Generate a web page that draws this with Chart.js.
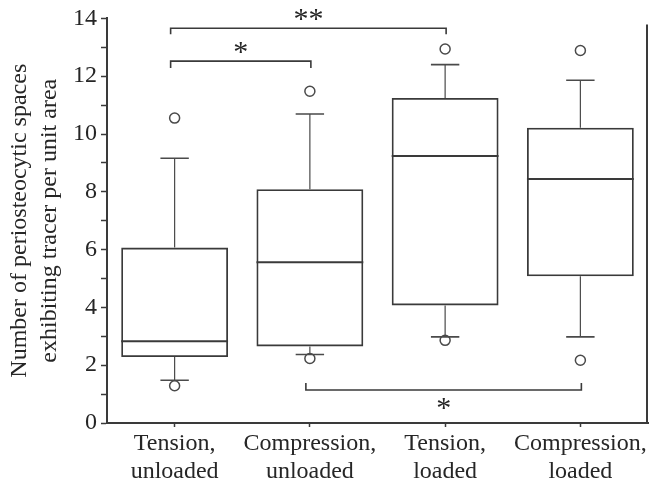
<!DOCTYPE html>
<html>
<head>
<meta charset="utf-8">
<script src="https://cdn.jsdelivr.net/npm/chart.js@4/dist/chart.umd.min.js"></script>
<style>
  body { margin: 0; background: #ffffff; }
  #wrap { width: 649px; height: 484px; }
</style>
</head>
<body>
<div id="wrap"><canvas id="chart" width="649" height="484"></canvas></div>
<script>
  let categories = [['Tension,', 'unloaded'], ['Compression,', 'unloaded'], ['Tension,', 'loaded'], ['Compression,', 'loaded']];

  // box plot values
  let q1Values = [2.28, 2.65, 4.07, 5.08];
  let medianValues = [2.83, 5.56, 9.24, 8.44];
  let q3Values = [6.07, 8.09, 11.25, 10.22];
  let whiskerLow = [1.48, 2.37, 2.98, 2.98];
  let whiskerHigh = [9.16, 10.69, 12.4, 11.86];
  let outlierHigh = [10.55, 11.48, 12.94, 12.89];
  let outlierLow = [1.29, 2.23, 2.86, 2.17];

  // significance brackets
  let bracketFrom = [0, 0, 1];
  let bracketTo = [1, 2, 3];
  let bracketLevel = [12.52, 13.66, 1.14];
  let bracketTip = [12.28, 13.45, 1.38];
  let bracketText = ['*', '**', '*'];
  let bracketTextLevel = [12.93, 14.07, 0.62];

  let yMin = 0;
  let yMax = 14;
  let yStep = 2;

  let serif = "'Liberation Serif', 'Times New Roman', serif";
  let inkColor = '#262626';
  let lineColor = '#3a3a3a';

  let boxExtras = {
    id: 'boxExtras',
    afterDatasetsDraw: function(chart) {
      let ctx = chart.ctx;
      let xs = chart.scales.x;
      let ys = chart.scales.y;
      let bars = chart.getDatasetMeta(0).data;
      let capHalf = (xs.getPixelForValue(1) - xs.getPixelForValue(0)) * 0.105;

      ctx.save();
      for (let i = 0; i < categories.length; i++) {
        let cx = xs.getPixelForValue(i);
        let half = bars[i].width / 2;

        // whiskers
        ctx.strokeStyle = '#4a4a4a';
        ctx.lineWidth = 1.2;
        ctx.beginPath();
        ctx.moveTo(cx, ys.getPixelForValue(q3Values[i]));
        ctx.lineTo(cx, ys.getPixelForValue(whiskerHigh[i]));
        ctx.moveTo(cx, ys.getPixelForValue(q1Values[i]));
        ctx.lineTo(cx, ys.getPixelForValue(whiskerLow[i]));
        ctx.stroke();

        ctx.lineWidth = 1.6;
        ctx.beginPath();
        ctx.moveTo(cx - capHalf, ys.getPixelForValue(whiskerHigh[i]));
        ctx.lineTo(cx + capHalf, ys.getPixelForValue(whiskerHigh[i]));
        ctx.moveTo(cx - capHalf, ys.getPixelForValue(whiskerLow[i]));
        ctx.lineTo(cx + capHalf, ys.getPixelForValue(whiskerLow[i]));
        ctx.stroke();

        // median
        ctx.strokeStyle = lineColor;
        ctx.lineWidth = 2;
        ctx.beginPath();
        ctx.moveTo(cx - half, ys.getPixelForValue(medianValues[i]));
        ctx.lineTo(cx + half, ys.getPixelForValue(medianValues[i]));
        ctx.stroke();
      }
      ctx.restore();
    },
    afterDraw: function(chart) {
      let ctx = chart.ctx;
      let xs = chart.scales.x;
      let ys = chart.scales.y;
      let area = chart.chartArea;

      ctx.save();
      // right frame line
      ctx.strokeStyle = lineColor;
      ctx.lineWidth = 2;
      ctx.beginPath();
      ctx.moveTo(area.right - 1, area.top + 6);
      ctx.lineTo(area.right - 1, area.bottom);
      ctx.stroke();

      for (let i = 0; i < bracketText.length; i++) {
        let x1 = xs.getPixelForValue(bracketFrom[i]) - 4;
        let x2 = xs.getPixelForValue(bracketTo[i]) + 1;
        let yl = ys.getPixelForValue(bracketLevel[i]);
        let yt = ys.getPixelForValue(bracketTip[i]);
        ctx.strokeStyle = lineColor;
        ctx.lineWidth = 1.6;
        ctx.beginPath();
        ctx.moveTo(x1, yt);
        ctx.lineTo(x1, yl);
        ctx.lineTo(x2, yl);
        ctx.lineTo(x2, yt);
        ctx.stroke();

        ctx.fillStyle = inkColor;
        ctx.font = '30px ' + serif;
        ctx.textAlign = 'center';
        ctx.textBaseline = 'alphabetic';
        ctx.fillText(bracketText[i], (x1 + x2) / 2, ys.getPixelForValue(bracketTextLevel[i]) + 12);
      }
      ctx.restore();
    }
  };

  let boxData = [];
  for (let i = 0; i < categories.length; i++) {
    boxData.push([q1Values[i], q3Values[i]]);
  }

  let outlierStyle = {
    type: 'line',
    showLine: false,
    pointStyle: 'circle',
    pointRadius: 5,
    borderColor: '#4a4a4a',
    backgroundColor: 'rgba(255,255,255,0)',
    borderWidth: 1.5
  };

  let ctx = document.getElementById('chart').getContext('2d');
  new Chart(ctx, {
    type: 'bar',
    data: {
      labels: categories,
      datasets: [{
        data: boxData,
        backgroundColor: 'rgba(255,255,255,0)',
        borderColor: lineColor,
        borderWidth: 1.8,
        borderSkipped: false,
        barPercentage: 0.79,
        categoryPercentage: 1
      },
      Object.assign({ data: outlierHigh }, outlierStyle),
      Object.assign({ data: outlierLow }, outlierStyle)]
    },
    options: {
      responsive: false,
      animation: false,
      events: [],
      layout: { autoPadding: false, padding: { top: 17, right: 1, left: 0, bottom: 0 } },
      plugins: {
        legend: { display: false },
        tooltip: { enabled: false }
      },
      scales: {
        x: {
          type: 'category',
          offset: true,
          grid: { display: true, drawOnChartArea: false, offset: false, tickLength: 4, tickColor: lineColor, tickWidth: 1.5 },
          border: { color: lineColor, width: 2 },
          ticks: {
            color: inkColor,
            padding: 3,
            maxRotation: 0,
            autoSkip: false,
            font: { family: serif, size: 24, lineHeight: 1.17 }
          },
          afterFit: function(scale) {
            scale.height = 61;
            scale.paddingLeft = 0;
            scale.paddingRight = 0;
          }
        },
        y: {
          min: yMin,
          max: yMax,
          grid: { drawOnChartArea: false, tickLength: 6, tickColor: lineColor, tickWidth: 1.5 },
          border: { color: lineColor, width: 2 },
          ticks: {
            stepSize: 1,
            autoSkip: false,
            color: inkColor,
            padding: 4,
            font: { family: serif, size: 24 },
            callback: function(value) { return value % yStep === 0 ? value : ''; }
          },
          title: {
            display: true,
            text: ['Number of periosteocytic spaces', 'exhibiting tracer per unit area'],
            color: inkColor,
            padding: { top: 5, bottom: 0 },
            font: { family: serif, size: 24, lineHeight: 1.25 }
          },
          afterFit: function(scale) { scale.width = 107; }
        }
      }
    },
    plugins: [boxExtras]
  });
</script>
</body>
</html>
